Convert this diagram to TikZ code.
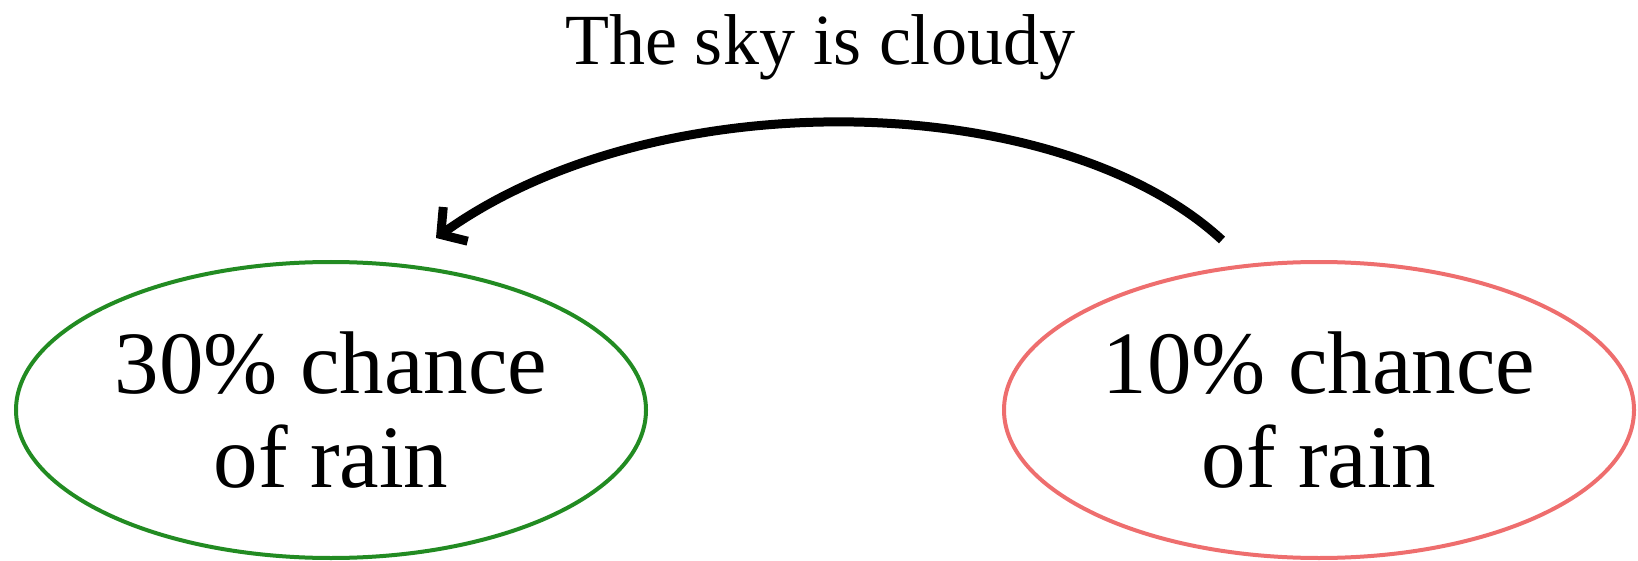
\documentclass[tikz,border=0pt]{standalone}
\usepackage{fontspec}
\setmainfont{Liberation Serif}
\usetikzlibrary{shapes.geometric,arrows.meta}
\definecolor{okgreen}{RGB}{34,139,34}
\definecolor{softred}{RGB}{238,110,110}
\tikzset{
  state/.style={ellipse, draw, line width=4pt, minimum width=630pt, minimum height=296pt,
    inner sep=0pt, align=center, font=\fontsize{89}{94}\selectfont},
  cond/.style={font=\fontsize{72}{76}\selectfont, anchor=base},
  flow/.style={line width=9pt, -{Straight Barb[length=18pt,width=42pt,line width=9pt]}}
}
\begin{document}
\begin{tikzpicture}[x=1pt,y=-1pt]
\useasboundingbox (0,0) rectangle (1638,561);
\node[state, draw=okgreen] (n30) at (331,410) {30\% chance\\of rain};
\node[state, draw=softred] (n10) at (1319,410) {10\% chance\\of rain};
\node[cond] (sky) at (820,65) {The sky is cloudy};
\coordinate (s) at (1222,240);
\coordinate (e) at (436,238);
\draw[flow] (s) .. controls (1060,90) and (660,78) .. (e);
\end{tikzpicture}
\end{document}
